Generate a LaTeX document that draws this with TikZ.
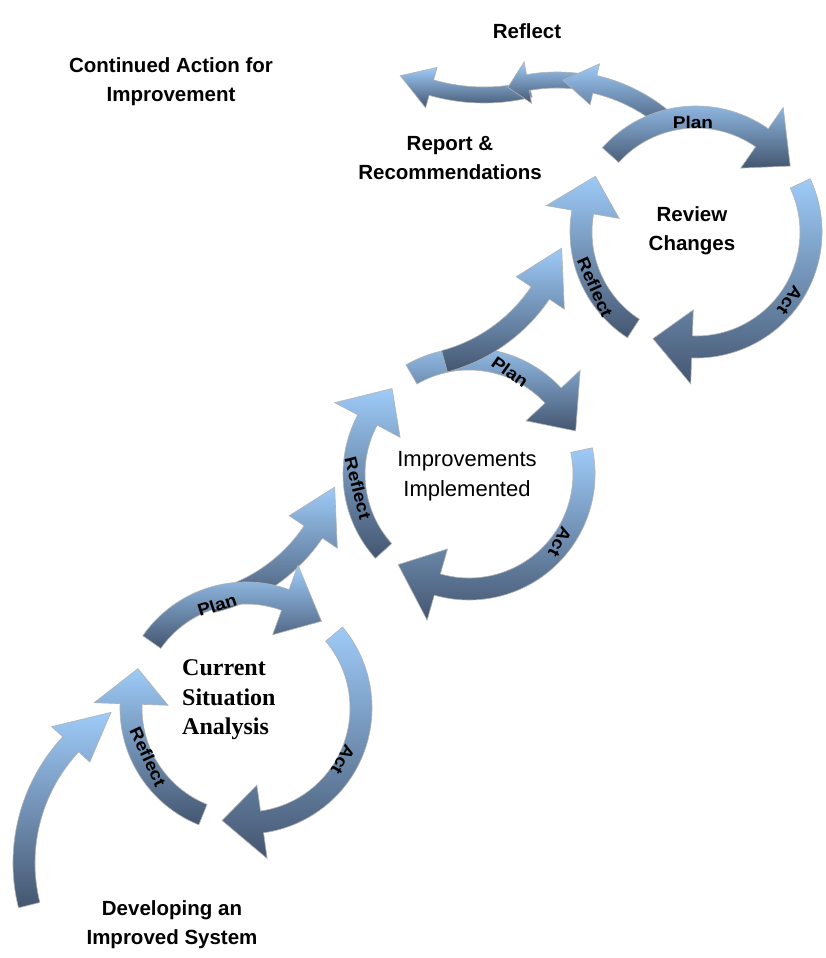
\documentclass[tikz,border=0pt]{standalone}
\usepackage{fontspec}
\setmainfont{Liberation Serif}
\setsansfont{Liberation Sans}

\definecolor{arrowlight}{RGB}{158,203,248}
\definecolor{arrowdark}{RGB}{68,86,112}

% curved block arrow: centre, mid radius, start angle, head base angle, tip angle, half band, half head
\newcommand{\bentarrow}[7]{%
  \begin{scope}[shift={#1}]
    \path[blockarrow] ({#3}:{#2+#6}) arc[start angle={#3}, end angle={#4}, radius={#2+#6}]
      -- ({#4}:{#2+#7}) -- ({#5}:{#2}) -- ({#4}:{#2-#7})
      -- ({#4}:{#2-#6}) arc[start angle={#4}, end angle={#3}, radius={#2-#6}] -- cycle;
  \end{scope}}

\begin{document}
\begin{tikzpicture}[x=1pt, y=1pt,
    blockarrow/.style={draw=gray!60, line width=0.6pt, top color=arrowlight, bottom color=arrowdark},
    cyclelabel/.style={font=\sffamily\bfseries\fontsize{17}{17}\selectfont, xscale=1.12, inner sep=0pt},
    boxtext/.style={font=\sffamily\bfseries\fontsize{20.5}{29}\selectfont, align=center, inner sep=0pt},
    serifbox/.style={font=\rmfamily\bfseries\fontsize{24}{29.5}\selectfont, align=left, inner sep=0pt, anchor=west}]
    \useasboundingbox[fill=white] (0,0) rectangle (826,-958);

    %Arrows
    \bentarrow{(198,-863)}{174}{194}{137}{120}{11}{26}
    \bentarrow{(174,-438)}{168}{-77}{-34}{-17}{11}{29}
    % first cycle
    \bentarrow{(246,-708)}{115}{145}{70}{49}{11}{37}
    \bentarrow{(246,-708)}{115}{40}{-82}{-102}{11}{37}
    \bentarrow{(246,-708)}{115}{248}{178}{160}{11}{37}
    % second cycle
    \bentarrow{(469,-474)}{115}{120}{43}{22}{11}{37}
    \bentarrow{(469,-474)}{115}{12}{-106}{-128}{11}{37}
    \bentarrow{(469,-474)}{115}{222}{152}{132}{11}{37}
    \bentarrow{(401,-199)}{168}{-75}{-34}{-17}{11}{29}
    % way out at the top
    \bentarrow{(484,96)}{191}{-76}{-106}{-116}{8}{21}
    \bentarrow{(557,-248)}{168}{82}{100}{107}{8}{21}
    \bentarrow{(557,-248)}{168}{47}{77}{88}{9}{21}
    % third cycle
    \bentarrow{(696,-232)}{115}{138}{55}{35}{11}{37}
    \bentarrow{(696,-232)}{115}{25}{-92}{-112}{11}{37}
    \bentarrow{(696,-232)}{115}{237}{170}{151}{11}{37}

    %Nodes
    \node[boxtext]  (reflecttop) at (527,-31)  {Reflect};
    \node[boxtext]  (continued)  at (171,-82)  {Continued Action for\\Improvement};
    \node[boxtext]  (report)     at (450,-158) {Report \&\\Recommendations};
    \node[boxtext]  (review)     at (692,-231) {Review\\Changes};
    \node[boxtext, font=\sffamily\fontsize{22}{30}\selectfont]
                    (improve)    at (467,-476) {Improvements\\Implemented};
    \node[serifbox] (current)    at (182,-700) {Current\\Situation\\Analysis};
    \node[boxtext]  (develop)    at (172,-925) {Developing an\\Improved System};

    %Labels on the cycles
    \node[rotate=18, cyclelabel]   (plan1)    at (217,-605) {Plan};
    \node[rotate=-120, cyclelabel] (act1)     at (343,-760) {Act};
    \node[rotate=-65, cyclelabel]  (reflect1) at (148,-757) {Reflect};
    \node[rotate=-35, cyclelabel]  (plan2)    at (510,-372) {Plan};
    \node[rotate=-118, cyclelabel] (act2)     at (560,-542) {Act};
    \node[rotate=-76, cyclelabel]  (reflect2) at (358,-488) {Reflect};
    \node[rotate=0, cyclelabel]    (plan3)    at (693,-122) {Plan};
    \node[rotate=-125, cyclelabel] (act3)     at (790,-300) {Act};
    \node[rotate=-66, cyclelabel]  (reflect3) at (595,-287) {Reflect};
\end{tikzpicture}
\end{document}
